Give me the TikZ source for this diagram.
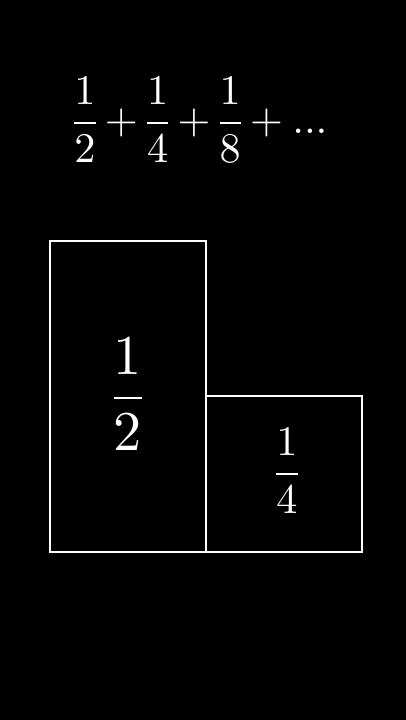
\documentclass[tikz,border=0pt]{standalone}
\usepackage{amsmath}
\usepackage{tikz}
\usetikzlibrary{positioning}

\begin{document}
\begin{tikzpicture}[font=\normalsize]
		\tikzstyle{piece} = [rectangle, draw=white, line width=1.1pt, inner sep=0pt, outer sep=0pt, minimum width=3.12cm]
		
		\tikzstyle{frac} = [text=white, inner sep=0pt]
		
		% Background and page size
		\fill[black] (0,0) rectangle (8.12,-14.4);
		\useasboundingbox (0,0) rectangle (8.12,-14.4);
		
		% The series
		\node (series) [frac, scale=2.4] at (4.02,-2.40) {$\nulldelimiterspace=0pt\displaystyle \frac{1}{2}+\frac{1}{4}+\frac{1}{8}+...$};
		
		% Pieces of the unit
		\node (half) [piece, minimum height=6.22cm] at (2.56,-7.93) {};
		\node (quarter) [piece, minimum height=3.12cm, anchor=south west] at (half.south east) {};
		
		% Labels
		\node (halflabel) [frac, scale=3.2] at ([yshift=0.04cm]half.center) {$\displaystyle\frac{1}{2}$};
		\node (quarterlabel) [frac, scale=2.4] at ([xshift=0.06cm, yshift=0.06cm]quarter.center) {$\displaystyle\frac{1}{4}$};
		\end{tikzpicture}
\end{document}
